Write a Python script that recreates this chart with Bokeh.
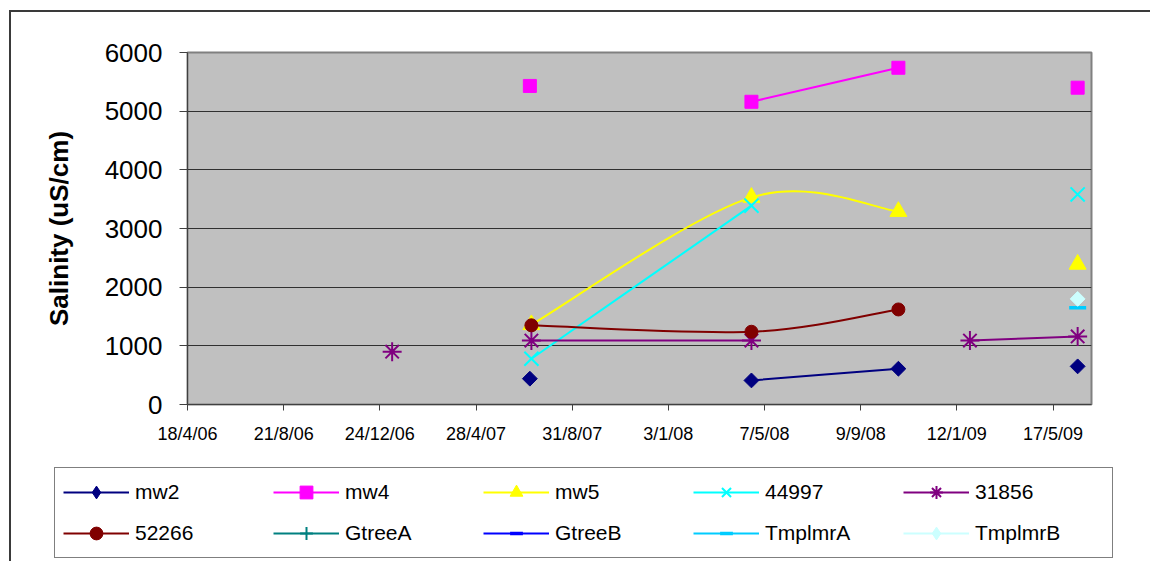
import pandas as pd
from bokeh.plotting import figure
from bokeh.layouts import column, row
from bokeh.models import (Range1d, FixedTicker, Legend, LegendItem,
                          ColumnDataSource, Spacer)
from bokeh.embed import file_html
from bokeh.resources import INLINE

# Sampling rounds (rows of the monitoring table)
sample_dates = ["2007-01-09", "2007-07-07", "2007-07-09", "2008-04-20",
                "2008-10-28", "2009-01-29", "2009-06-18"]

# Salinity readings (uS/cm); None = not sampled in that round
mw2 = [None, 440, None, 410, 610, None, 650]
mw4 = [None, 5430, None, 5160, 5740, None, 5400]
mw5 = [None, None, 1360, 3530, 3290, None, 2390]
bore_44997 = [None, None, 780, 3390, None, None, 3580]
bore_31856 = [900, None, 1090, 1090, None, 1090, 1160]
bore_52266 = [None, None, 1350, 1240, 1620, None, None]
gtree_a = [None, None, None, None, None, None, None]
gtree_b = [None, None, None, None, None, None, None]
tmplmr_a = [None, None, None, None, None, None, 1650]
tmplmr_b = [None, None, None, None, None, None, 1800]

series_names = ["mw2", "mw4", "mw5", "44997", "31856",
                "52266", "GtreeA", "GtreeB", "TmplmrA", "TmplmrB"]
series_values = [mw2, mw4, mw5, bore_44997, bore_31856,
                 bore_52266, gtree_a, gtree_b, tmplmr_a, tmplmr_b]

# Date axis
x_start, x_end = "2006-04-18", "2009-07-06"
tick_labels = ["18/4/06", "21/8/06", "24/12/06", "28/4/07", "31/8/07",
               "3/1/08", "7/5/08", "9/9/08", "12/1/09", "17/5/09"]
y_ticks = [0, 1000, 2000, 3000, 4000, 5000, 6000]

# marker, colour, size, angle  (diamonds are squares turned 45 degrees)
styles = [
    ("square", "#000080", 10.5, 0.785398),
    ("square", "#FF00FF", 13, 0.0),
    ("triangle", "#FFFF00", 17, 0.0),
    ("x", "#00FFFF", 20, 0.0),
    ("asterisk", "#800080", 19, 0.0),
    ("circle", "#800000", 13, 0.0),
    ("cross", "#008080", 16, 0.0),
    ("dash", "#0000FF", 8, 0.0),
    ("dash", "#00CCFF", 17, 0.0),
    ("square", "#CCFFFF", 10.5, 0.785398),
]

FONT = "Liberation Sans"
EDGE = "#3a3a3a"


def to_ms(s):
    return pd.Timestamp(s).value // 10**6


xs_ms = [to_ms(d) for d in sample_dates]
tick_ms = [pd.to_datetime(t, format="%d/%m/%y").value // 10**6
           for t in tick_labels]


def runs(values):
    """Split a series into runs of consecutive sampled rounds."""
    out, seg = [], []
    for x, v in zip(xs_ms, values):
        if v is None:
            if seg:
                out.append(seg)
            seg = []
        else:
            seg.append((x, v))
    if seg:
        out.append(seg)
    return out


def smooth_segments(values):
    """Cubic Bezier pieces (Catmull-Rom style) through each run of points."""
    keys = ("x0", "y0", "x1", "y1", "cx0", "cy0", "cx1", "cy1")
    cols = {k: [] for k in keys}
    for run in runs(values):
        n = len(run)
        for i in range(n - 1):
            p0 = run[i - 1] if i > 0 else run[i]
            p1, p2 = run[i], run[i + 1]
            p3 = run[i + 2] if i + 2 < n else run[i + 1]
            cols["x0"].append(p1[0]); cols["y0"].append(p1[1])
            cols["x1"].append(p2[0]); cols["y1"].append(p2[1])
            cols["cx0"].append(p1[0] + (p2[0] - p0[0]) / 6)
            cols["cy0"].append(p1[1] + (p2[1] - p0[1]) / 6)
            cols["cx1"].append(p2[0] - (p3[0] - p1[0]) / 6)
            cols["cy1"].append(p2[1] - (p3[1] - p1[1]) / 6)
    return cols


def add_markers(fig, src, marker, color, size, angle):
    if marker in ("x", "asterisk", "cross", "dash"):
        lw = 3.5 if marker == "dash" else 2
        return fig.scatter("x", "y", source=src, marker=marker, size=size,
                           line_color=color, line_width=lw, angle=angle)
    return fig.scatter("x", "y", source=src, marker=marker, size=size,
                       fill_color=color, line_color=color, angle=angle)


# ---- main chart -------------------------------------------------------
p = figure(width=1139, height=448, x_axis_type="datetime",
           x_range=Range1d(to_ms(x_start), to_ms(x_end)),
           y_range=Range1d(0, 6000),
           output_backend="svg", toolbar_location=None,
           min_border_left=176, min_border_right=59,
           min_border_top=40, min_border_bottom=56)

p.background_fill_color = "#C0C0C0"
p.border_fill_color = "white"
p.outline_line_color = "#808080"
p.outline_line_width = 2

p.yaxis.ticker = FixedTicker(ticks=y_ticks)
p.yaxis.axis_label = "Salinity (uS/cm)"
p.yaxis.axis_label_text_font = FONT
p.yaxis.axis_label_text_font_style = "bold"
p.yaxis.axis_label_text_font_size = "26px"
p.yaxis.axis_label_text_color = "black"
p.yaxis.axis_label_standoff = 28
p.yaxis.major_label_text_font = FONT
p.yaxis.major_label_text_font_size = "26px"
p.yaxis.major_label_text_color = "black"
p.yaxis.major_label_standoff = 17
p.yaxis.major_tick_out = 8
p.yaxis.major_tick_in = 0
p.yaxis.minor_tick_out = 0
p.yaxis.minor_tick_in = 0
p.yaxis.axis_line_color = "#404040"
p.yaxis.major_tick_line_color = "#404040"

p.xaxis.ticker = FixedTicker(ticks=tick_ms)
p.xaxis.major_label_overrides = {int(t): lab for t, lab in zip(tick_ms, tick_labels)}
p.xaxis.major_label_text_font = FONT
p.xaxis.major_label_text_font_size = "18px"
p.xaxis.major_label_text_color = "black"
p.xaxis.major_label_standoff = 13
p.xaxis.major_tick_out = 6
p.xaxis.major_tick_in = 0
p.xaxis.minor_tick_out = 0
p.xaxis.minor_tick_in = 0
p.xaxis.axis_line_color = "#404040"
p.xaxis.major_tick_line_color = "#404040"

p.xgrid.visible = False
p.ygrid.ticker = FixedTicker(ticks=y_ticks[1:-1])
p.ygrid.grid_line_color = "#303030"
p.ygrid.grid_line_width = 1

for name, vals, (marker, color, size, angle) in zip(series_names, series_values, styles):
    p.bezier(x0="x0", y0="y0", x1="x1", y1="y1",
             cx0="cx0", cy0="cy0", cx1="cx1", cy1="cy1",
             source=ColumnDataSource(smooth_segments(vals)),
             line_color=color, line_width=2)
    pts = [(x, v) for x, v in zip(xs_ms, vals) if v is not None]
    src = ColumnDataSource(dict(x=[q[0] for q in pts], y=[q[1] for q in pts]))
    add_markers(p, src, marker, color, size, angle)

# ---- legend strip -----------------------------------------------------
key = figure(width=1139, height=101, x_range=Range1d(0, 1), y_range=Range1d(0, 1),
             output_backend="svg", toolbar_location=None,
             x_axis_location=None, y_axis_location=None,
             min_border=0, outline_line_color=None)
key.grid.visible = False
key.background_fill_color = "white"
key.border_fill_color = "white"

legend_items = []
for name, (marker, color, size, angle) in zip(series_names, styles):
    # key glyph sources sit outside the visible range; only the legend shows them
    off = ColumnDataSource(dict(x=[-5.0, -4.0], y=[-5.0, -5.0]))
    ln = key.line("x", "y", source=off, line_color=color, line_width=2)
    key_marker = "diamond" if angle else marker
    mk = add_markers(key, off, key_marker, color, size, 0.0)
    legend_items.append(LegendItem(label=name, renderers=[ln, mk], index=0))

legend = Legend(items=legend_items, location=(43, 3),
                orientation="horizontal", ncols=5,
                glyph_width=66, glyph_height=32, label_height=30,
                label_width=129, label_standoff=6, spacing=9,
                padding=8, margin=0,
                label_text_font=FONT, label_text_font_size="21px",
                label_text_color="black",
                border_line_color="black", border_line_width=1,
                background_fill_color="white", background_fill_alpha=1)
key.add_layout(legend, "center")

# ---- chart-area frame (left and top edges) ----------------------------
top_edge = Spacer(width=1141, height=2, styles={"background-color": EDGE})
left_edge_a = Spacer(width=2, height=448, styles={"background-color": EDGE})
left_edge_b = Spacer(width=2, height=101, styles={"background-color": EDGE})

page = row(Spacer(width=9, height=561),
           column(Spacer(width=1141, height=10), top_edge,
                  row(left_edge_a, p, spacing=0),
                  row(left_edge_b, key, spacing=0),
                  spacing=0),
           spacing=0)

open("out.html", "w").write(file_html(page, INLINE))
